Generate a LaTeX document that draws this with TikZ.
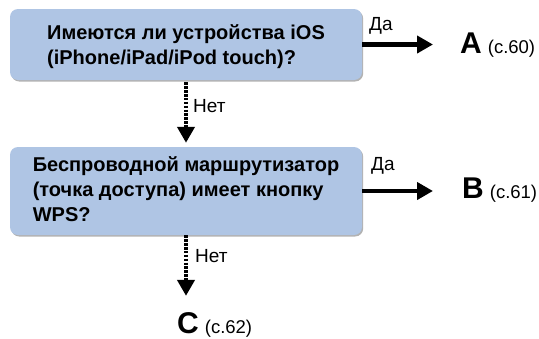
\documentclass[tikz,border=0pt]{standalone}
\usepackage{fontspec}
\setmainfont{Liberation Sans}
\usepackage{tikz}
\usetikzlibrary{arrows.meta,calc,positioning,shadows}
\usepackage{xcolor}
\definecolor{qblue}{RGB}{175,197,228}

\begin{document}
\begin{tikzpicture}[x=1pt, y=-1pt,
    every node/.style={inner sep=0pt},
    qbox/.style={fill=qblue, rounded corners=8pt, minimum width=352pt,
      drop shadow={shadow xshift=1.2pt, shadow yshift=-1.5pt, opacity=0.3, fill=black}},
    qtext/.style={align=left, font=\fontsize{20}{25}\selectfont\bfseries},
    ans/.style={font=\fontsize{30}{32}\selectfont\bfseries},
    lbl/.style={font=\fontsize{19}{21}\selectfont},
    yes/.style={line width=4.5pt, -{Triangle[length=16pt, width=17pt]}},
    no/.style={line width=4pt, dash pattern=on 2.6pt off 1.3pt,
      -{Triangle[length=16pt, width=17pt]}}]
  \def\pref#1{\hspace{6pt}{\fontsize{18.5}{20}\selectfont\mdseries(с.#1)}}
  \useasboundingbox (0,0) rectangle (539,338);
  % questions
  \node[qbox, minimum height=71pt] (q1) at (186,44.5) {};
  \node[qtext] (q1t) at ([yshift=-2.5pt]q1.center)
    {Имеются ли устройства iOS\\(iPhone/iPad/iPod touch)?};
  \node[qbox, minimum height=88pt] (q2) at (186,191) {};
  \node[qtext] (q2t) at ([yshift=2pt]q2.center)
    {Беспроводной маршрутизатор\\(точка доступа) имеет кнопку\\WPS?};
  % answers
  \node[ans, anchor=base west] (ansA) at (460,53) {A\pref{60}};
  \node[ans, anchor=base west] (ansB) at (462,198) {B\pref{61}};
  \node[ans, anchor=base west] (ansC) at (177,333) {C\pref{62}};
  % yes arrows
  \draw[yes, shorten >=27pt] (q1.east) -- (q1.east -| ansA.west);
  \draw[yes, shorten >=29pt] (q2.east) -- (q2.east -| ansB.west);
  \node[lbl, anchor=base west] (yes1) at (369,30) {Да};
  \node[lbl, anchor=base west] (yes2) at (371,170) {Да};
  % no arrows
  \draw[no, shorten <=2pt, shorten >=4pt] (q1.south) -- (q2.north);
  \draw[no, shorten >=16pt] (q2.south) -- (q2.south |- ansC.north);
  \node[lbl, anchor=base west] (no1) at (193,112) {Нет};
  \node[lbl, anchor=base west] (no2) at (195,262) {Нет};
\end{tikzpicture}
\end{document}
